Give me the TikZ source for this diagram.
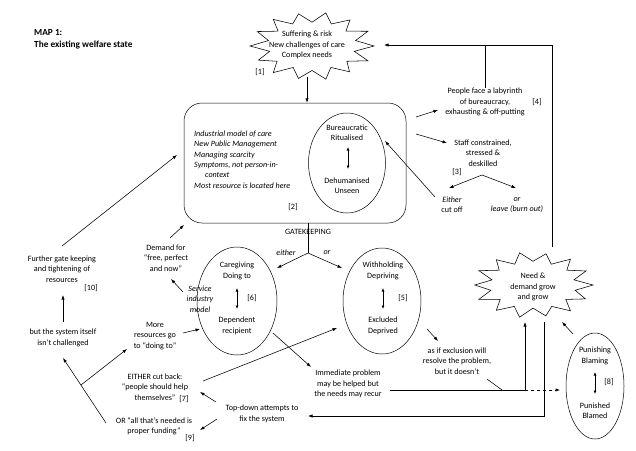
\documentclass[tikz,border=0pt]{standalone}
\usepackage{fontspec}
\setmainfont{Carlito}
\usetikzlibrary{shapes.geometric,arrows.meta}
\begin{document}
\begin{tikzpicture}[x=1pt,y=-1pt,
 txt/.style={font=\fontsize{8.1}{10.4}\selectfont, align=center, inner sep=0pt},
 itx/.style={txt, font=\fontsize{8.1}{10.4}\selectfont\itshape},
 arr/.style={-{Latex[length=4.5pt,width=3.2pt]}, line width=0.55pt},
 ln/.style={line width=0.55pt},
 dbl/.style={{Latex[length=3.5pt,width=3pt]}-{Latex[length=3.5pt,width=3pt]}, line width=0.8pt},
 oval/.style={draw, ellipse, inner sep=0pt, line width=0.5pt},
]
\useasboundingbox (0,0) rectangle (636,450);

% title
\node[anchor=west, align=left, font=\fontsize{9.3}{12}\selectfont\bfseries, inner sep=0pt] (title) at (34,39) {MAP 1:\\The existing welfare state};

% top starburst
\draw[ln, shift={(312,46)}, xscale=62, yscale=34] (0:1)
  \foreach \a/\r in {12.9/0.7, 25.7/1, 38.6/0.72, 51.4/0.97, 64.3/0.7, 77.1/1, 90/0.72, 102.9/0.98, 115.7/0.7, 128.6/1, 141.4/0.72, 154.3/0.96, 167.1/0.7, 180/1, 192.9/0.72, 205.7/0.98, 218.6/0.7, 231.4/1, 244.3/0.72, 257.1/0.97, 270/0.7, 282.9/1, 295.7/0.72, 308.6/0.98, 321.4/0.7, 334.3/1, 347.1/0.72} { -- (\a:\r) } -- cycle;
\node[txt] (suffer) at (307,45) {Suffering \& risk\\New challenges of care\\Complex needs};
\node[txt] (n1) at (260,72) {[1]};

% big box
\node[draw, rounded corners=18pt, minimum width=222pt, minimum height=120pt, line width=0.5pt] (box) at (295,163) {};
\node[itx, align=left, anchor=north west] (boxtxt) at (194,130.5) {Industrial model of care\\New Public Management\\Managing scarcity\\Symptoms, not person-in-\\\hspace*{11pt}context\\Most resource is located here};
\node[txt] (n2) at (293,207) {[2]};
\node[oval, minimum width=77pt, minimum height=100pt] (bur) at (347,163) {};
\node[txt] (burt) at (347,133) {Bureaucratic\\Ritualised};
\node[txt] (dehu) at (347,186) {Dehumanised\\Unseen};
\coordinate (d1a) at (348,147); \coordinate (d1b) at (348,169);
\draw[dbl] (d1a) -- (d1b);

% gatekeeping
\node[txt] (gk) at (308,232) {GATEKEEPING};
\coordinate (gate) at (308,253);
\draw[ln] (box.south -| gate) -- (gate);
\coordinate (gl) at (277,268);
\coordinate (gr) at (342,268);
\draw[arr] (gate) -- (gl);
\draw[arr] (gate) -- (gr);
\node[itx] (either) at (286,253) {either};
\node[itx] (or) at (327,253) {or};

% caregiving
\node[oval, minimum width=80pt, minimum height=108pt] (care) at (237,301) {};
\node[txt] (caret) at (237,271) {Caregiving\\Doing to};
\node[txt] (dep) at (237,326) {Dependent\\recipient};
\coordinate (d2a) at (237,288); \coordinate (d2b) at (237,309);
\draw[dbl] (d2a) -- (d2b);
\node[txt] (n6) at (252,298) {[6]};
\node[itx] (serv) at (200,299) {Service\\industry\\model};

% withholding
\node[oval, minimum width=78pt, minimum height=106pt] (with) at (382,301) {};
\node[txt] (witht) at (383,271) {Withholding\\Depriving};
\node[txt] (excl) at (383,326) {Excluded\\Deprived};
\coordinate (d3a) at (383,288); \coordinate (d3b) at (383,309);
\draw[dbl] (d3a) -- (d3b);
\node[txt] (n5) at (403,298) {[5]};

% right upper texts
\node[txt] (people) at (485,102) {People face a labyrinth\\of bureaucracy,\\exhausting \& off-putting};
\node[txt] (n4) at (537,102) {[4]};
\node[txt] (staff) at (483,153) {Staff constrained,\\stressed \&\\deskilled};
\node[txt] (n3) at (457,172) {[3]};
\node[txt] (cutoff) at (452,205) {\textit{Either}\\cut off};
\node[itx] (leave) at (517,205) {or\\leave (burn out)};

\coordinate (b1bot) at (307,77);
\draw[arr] (b1bot) -- (box.north -| b1bot);
\coordinate (b1r) at (384,45);
\coordinate (needtop) at (552,247);
\draw[arr] (needtop) |- (b1r);
\draw[ln] (people.north) -- (people.north |- b1r);
\coordinate (bx1) at (416,117); \coordinate (pe1) at (438,110);
\draw[arr] (bx1) -- (pe1);
\coordinate (bx2) at (416,134); \coordinate (st1) at (447,143);
\draw[arr] (bx2) -- (st1);
\coordinate (sb) at (482,175);
\coordinate (sbl) at (449,188); \coordinate (sbr) at (516,188);
\draw[arr] (sb) -- (sbl);
\draw[arr] (sb) -- (sbr);
\coordinate (co1) at (435,197); \coordinate (bu1) at (385,141);
\draw[arr] (co1) -- (bu1);

% need starburst
\draw[ln, shift={(533,285)}, xscale=60, yscale=33] (0:1)
  \foreach \a/\r in {12.9/0.72, 25.7/0.97, 38.6/0.7, 51.4/1, 64.3/0.72, 77.1/0.96, 90/0.7, 102.9/1, 115.7/0.72, 128.6/0.98, 141.4/0.7, 154.3/1, 167.1/0.72, 180/0.97, 192.9/0.7, 205.7/1, 218.6/0.72, 231.4/0.98, 244.3/0.7, 257.1/1, 270/0.72, 282.9/0.97, 295.7/0.7, 308.6/1, 321.4/0.72, 334.3/0.98, 347.1/0.7} { -- (\a:\r) } -- cycle;
\node[txt] (need) at (533,287) {Need \&\\demand grow\\and grow};

% punishing
\node[oval, minimum width=58pt, minimum height=106pt] (pun) at (595,386) {};
\node[txt] (punt) at (595,356) {Punishing\\Blaming};
\node[txt] (punb) at (595,411) {Punished\\Blamed};
\coordinate (d4a) at (595,372); \coordinate (d4b) at (595,394);
\draw[dbl] (d4a) -- (d4b);
\node[txt] (n8) at (609,382) {[8]};
\coordinate (pu1) at (573,334); \coordinate (ne1) at (562,322);
\draw[arr] (pu1) -- (ne1);

% middle lower texts
\node[txt] (asif) at (457,361) {as if exclusion will\\resolve the problem,\\but it doesn’t};
\node[txt] (immed) at (348,384) {Immediate problem\\may be helped but\\the needs may recur};
\node[txt] (topdown) at (262,414) {Top-down attempts to\\fix the system};

\coordinate (wi1) at (427,329); \coordinate (as1) at (438,341);
\draw[arr] (wi1) -- (as1);
\coordinate (ca1) at (273,333); \coordinate (im1) at (311,367);
\draw[arr] (ca1) -- (im1);
\coordinate (imr) at (390,390); \coordinate (jn) at (525,390); \coordinate (needb1) at (525,322);
\draw[ln] (imr) -- (jn);
\draw[arr] (jn) -- (needb1);
\coordinate (pul) at (560,390);
\draw[arr, dashed] (jn) -- (pul);
\coordinate (as2) at (487,379); \coordinate (jn2) at (502,390);
\draw[ln] (as2) -- (jn2);
\coordinate (needb2) at (544,322); \coordinate (td1) at (308,416);
\draw[arr] (needb2) |- (td1);

% left texts
\node[txt] (cutback) at (155,387) {EITHER cut back:\\“people should help\\themselves”};
\node[txt] (n7) at (184,399) {[7]};
\node[txt] (fund) at (154,426) {OR “all that’s needed is\\proper funding”};
\node[txt] (n9) at (190,438) {[9]};
\node[txt] (more) at (155,336) {More\\resources go\\to “doing to”};
\node[txt] (system) at (63,338) {but the system itself\\isn’t challenged};
\node[txt] (further) at (62,269) {Further gate keeping\\and tightening of\\resources};
\node[txt] (n10) at (91,288) {[10]};
\node[txt] (demand) at (166,258) {Demand for\\“free, perfect\\and now”};

\coordinate (de1) at (170,238); \coordinate (bx3) at (184,225);
\draw[arr] (de1) -- (bx3);
\coordinate (se1) at (183,292); \coordinate (de2) at (171,279);
\draw[arr] (se1) -- (de2);
\coordinate (fu1) at (62,246); \coordinate (bx4) at (177,155);
\draw[arr] (fu1) -- (bx4);
\coordinate (sy1) at (63,322); \coordinate (fu2) at (63,295);
\draw[arr] (sy1) -- (fu2);
\coordinate (or1) at (106,423); \coordinate (sy2) at (63,358);
\draw[arr] (or1) -- (sy2);
\coordinate (br1) at (81,385); \coordinate (mo1) at (127,349);
\draw[arr] (br1) -- (mo1);
\coordinate (mo2) at (183,333); \coordinate (ca2) at (200,329);
\draw[arr] (mo2) -- (ca2);
\coordinate (cb1) at (203,381); \coordinate (wi2) at (337,328);
\draw[arr] (cb1) -- (wi2);
\coordinate (td2) at (216,402); \coordinate (cb2) at (200,392);
\draw[arr] (td2) -- (cb2);
\coordinate (td3) at (217,419); \coordinate (fu3) at (200,430);
\draw[arr] (td3) -- (fu3);
\end{tikzpicture}
\end{document}
